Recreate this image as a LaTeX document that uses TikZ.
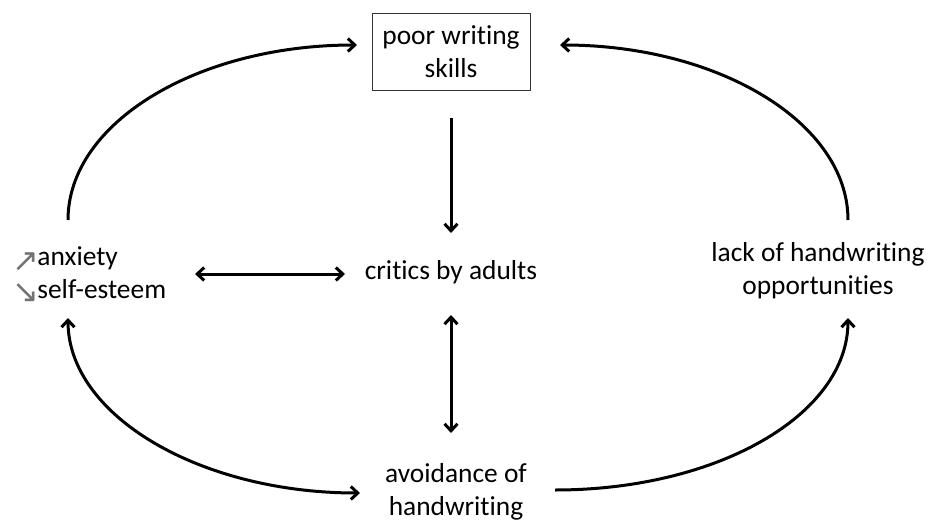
\documentclass[tikz,border=0pt]{standalone}
\usepackage{fontspec}
\setmainfont{Carlito}[Ligatures=NoCommon]
\newfontfamily\symfont{DejaVu Sans}
\usetikzlibrary{arrows.meta,calc}
\tikzset{
  lbl/.style={inner sep=0pt, outer sep=0pt, font=\fontsize{27.4}{33}\selectfont, align=center},
  boxnode/.style={lbl, draw=black!80, line width=0.9pt, minimum width=158pt, minimum height=77pt},
  conn/.style={line width=3pt, black},
  tipr/.style={-{Straight Barb[length=7pt,width=13pt]}},
  tipb/.style={{Straight Barb[length=7pt,width=13pt]}-{Straight Barb[length=7pt,width=13pt]}},
}
\newcommand{\uparr}{\makebox[24.5pt][l]{\smash{\raisebox{-6pt}{\symfont\fontsize{32}{32}\selectfont\color{black!55}↗}}}}
\newcommand{\dnarr}{\makebox[24.5pt][l]{\smash{\raisebox{-4pt}{\symfont\fontsize{32}{32}\selectfont\color{black!55}↘}}}}
\begin{document}
\begin{tikzpicture}[x=1pt,y=-1pt]
\useasboundingbox[fill=white] (0,0) rectangle (935,522);
\node[boxnode] (pws) at (451,51.5) {poor writing\\skills};
\node[lbl] (crit) at (451,272) {critics by adults};
\node[lbl, align=left] (anx) at (89.5,272.5) {\uparr anxiety\\\dnarr self-esteem};
\node[lbl] (lack) at (818,270.5) {lack of handwriting\\opportunities};
\node[lbl] (avo) at (456,491.5) {avoidance of\\handwriting};
% straight connectors
\draw[conn,tipr] ($(pws.center)+(0,66.5)$) -- ($(crit.center)+(0,-39)$);
\draw[conn,tipb] ($(anx.center)+(105.5,1.5)$) -- ($(crit.center)+(-106,2)$);
\draw[conn,tipb] ($(crit.center)+(0,43)$) -- ($(avo.center)+(-5,-58.5)$);
% curved connectors
\draw[conn,tipr] ($(anx.center)+(-21.5,-52.5)$) .. controls +(0,-97) and +(-160,0) .. ($(pws.center)+(-94,-6.5)$);
\draw[conn,tipr] ($(lack.center)+(30,-50.5)$) .. controls +(0,-97) and +(159,0) .. ($(pws.center)+(109,-6.5)$);
\draw[conn,tipb] ($(anx.center)+(-21.5,45.5)$) .. controls +(0,97) and +(-161,0) .. ($(avo.center)+(-96,1.5)$);
\draw[conn,tipr] ($(avo.center)+(99,-1.5)$) .. controls +(162,0) and +(0,97) .. ($(lack.center)+(30,47.5)$);
\end{tikzpicture}
\end{document}
